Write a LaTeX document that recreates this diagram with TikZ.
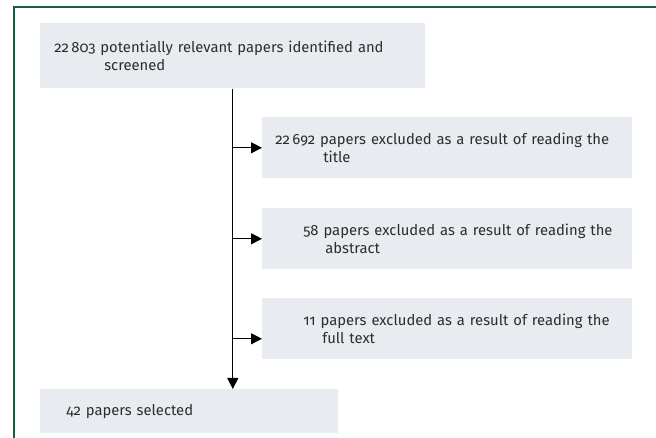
\documentclass[tikz,border=0pt]{standalone}
\usepackage{fontspec}
\setmainfont{Fira Sans}[Numbers=OldStyle]
\usepackage{tikz}
\usetikzlibrary{arrows.meta,positioning}
\definecolor{framegreen}{RGB}{28,92,56}
\definecolor{boxgray}{RGB}{232,235,239}
\definecolor{textgray}{RGB}{45,45,45}

\begin{document}
\begin{tikzpicture}[x=1pt,y=1pt,semithick,
	box/.style={fill=boxgray,anchor=north west,align=left,inner xsep=0pt,
		inner ysep=0pt,text=textgray,font=\fontsize{14.8}{17.5}\selectfont},
	flow/.style={-{Triangle[length=11pt,width=11pt]},line width=1.1pt}]
	\useasboundingbox (0,0) rectangle (656,438);
	\draw[framegreen,line width=2.4pt] (656,431) -- (14,431) -- (14,0);
	\node[box,text width=385pt,minimum height=65pt] (scr) at (40,415)
		{\hspace*{14pt}22\,803 potentially relevant papers identified and\\\hspace*{64pt}screened};
	\node[box,text width=370pt,minimum height=61pt] (title) at (262,321)
		{\hspace*{13pt}22\,692 papers excluded as a result of reading the\\\hspace*{61pt}title};
	\node[box,text width=370pt,minimum height=61pt] (abs) at (262,230)
		{\hspace*{41pt}58 papers excluded as a result of reading the\\\hspace*{63pt}abstract};
	\node[box,text width=370pt,minimum height=61pt] (full) at (262,140)
		{\hspace*{41pt}11 papers excluded as a result of reading the\\\hspace*{60pt}full text};
	\node[box,text width=298pt,minimum height=44pt] (sel) at (40,49)
		{\hspace*{26pt}42 papers selected};
	\draw[flow] (scr.south) -- (scr.south |- sel.north);
	\draw[flow] (scr.south |- title.west) -- (title.west);
	\draw[flow] (scr.south |- abs.west) -- (abs.west);
	\draw[flow] ([yshift=-10pt]full.west -| scr.south) -- ([yshift=-10pt]full.west);
\end{tikzpicture}
\end{document}
